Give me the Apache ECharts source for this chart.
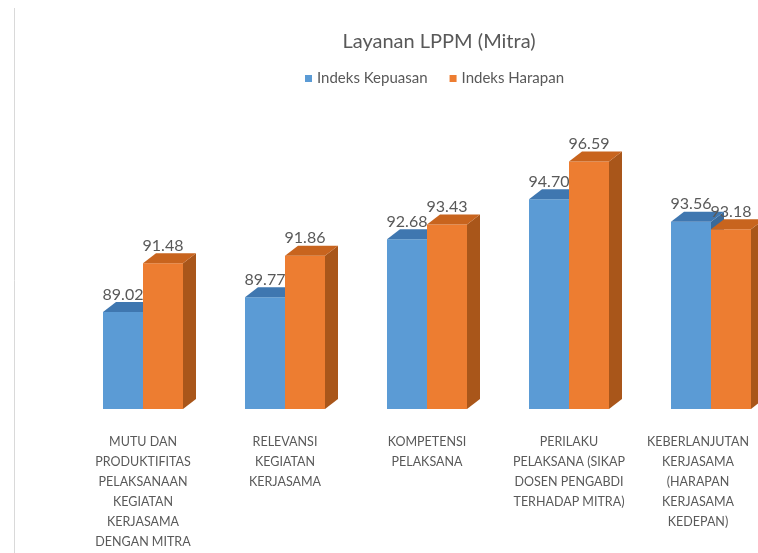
<!DOCTYPE html>
<html>
<head>
<meta charset="utf-8">
<script src="https://cdn.jsdelivr.net/npm/echarts@6/dist/echarts.min.js"></script>
<style>html,body{margin:0;padding:0;background:#fff}#c{width:758px;height:553px}</style>
</head>
<body>
<div id="c"></div>
<script>
var categories = [
  'MUTU DAN\nPRODUKTIFITAS\nPELAKSANAAN\nKEGIATAN\nKERJASAMA\nDENGAN MITRA',
  'RELEVANSI\nKEGIATAN\nKERJASAMA',
  'KOMPETENSI\nPELAKSANA',
  'PERILAKU\nPELAKSANA (SIKAP\nDOSEN PENGABDI\nTERHADAP MITRA)',
  'KEBERLANJUTAN\nKERJASAMA\n(HARAPAN\nKERJASAMA\nKEDEPAN)'
];
var kepuasan = [89.02, 89.77, 92.68, 94.70, 93.56];
var harapan = [91.48, 91.86, 93.43, 96.59, 93.18];

var Y_MIN = 84.15, Y_MAX = 97.22;
var FONT = 'Lato, "Open Sans", sans-serif';

function bar3D(front, top, side, pos) {
  return function (params, api) {
    var i = api.value(0), v = api.value(1);
    var t = api.coord([i, v]);
    var b = api.coord([i, Y_MIN]);
    var band = api.size([1, 0])[0];
    var w = band * 0.2817;
    var x0 = pos < 0 ? t[0] - w : t[0];
    var x1 = x0 + w;
    var dx = 13, dy = 10;
    return {
      type: 'group',
      children: [
        {type: 'polygon', shape: {points: [[x1, t[1]], [x1 + dx, t[1] - dy], [x1 + dx, b[1] - dy], [x1, b[1]]]}, style: {fill: side}},
        {type: 'rect', shape: {x: x0, y: t[1], width: w, height: b[1] - t[1]}, style: {fill: front}},
        {type: 'polygon', shape: {points: [[x0, t[1]], [x0 + dx, t[1] - dy], [x1 + dx, t[1] - dy], [x1, t[1]]]}, style: {fill: top}},
        {type: 'text', style: {text: v.toFixed(2), x: (x0 + x1) / 2, y: t[1] - 17.5, align: 'center', verticalAlign: 'middle', fill: '#595959', font: '16px ' + FONT}}
      ]
    };
  };
}

var xData = categories.map(function (c, i) {
  return i === categories.length - 1 ? {value: c, textStyle: {padding: [0, 26, 0, 0]}} : c;
});

var chart = echarts.init(document.getElementById('c'));
chart.setOption({
  backgroundColor: '#fff',
  animation: false,
  title: {text: 'Layanan LPPM (Mitra)', left: 434, top: 27, textAlign: 'center',
    textStyle: {fontFamily: FONT, fontSize: 20, fontWeight: 'normal', color: '#595959'}},
  legend: {left: 300, top: 66, itemWidth: 7, itemHeight: 7, itemGap: 22, icon: 'rect',
    textStyle: {fontFamily: FONT, fontSize: 15, color: '#595959'},
    data: [{name: 'Indeks Kepuasan', itemStyle: {color: '#5B9BD5'}}, {name: 'Indeks Harapan', itemStyle: {color: '#ED7D31'}}]},
  grid: {left: 72, width: 710, top: 149, bottom: 144, containLabel: false, outerBoundsMode: 'none'},
  xAxis: {type: 'category', data: xData,
    axisLine: {show: false}, axisTick: {show: false},
    axisLabel: {interval: 0, margin: 23, fontFamily: FONT, fontSize: 12.5, lineHeight: 20, color: '#595959', verticalAlign: 'top'}},
  yAxis: {type: 'value', min: Y_MIN, max: Y_MAX, show: false, splitLine: {show: false}},
  graphic: [{type: 'line', shape: {x1: 14.5, y1: 8, x2: 14.5, y2: 553}, style: {stroke: '#d9d9d9', lineWidth: 1}}],
  series: [
    {name: 'Indeks Kepuasan', type: 'custom', renderItem: bar3D('#5B9BD5', '#3F77B0', '#3A6A9A', -1),
      data: kepuasan.map(function (v, i) { return [i, v]; }), encode: {x: 0, y: 1}, itemStyle: {color: '#5B9BD5'}},
    {name: 'Indeks Harapan', type: 'custom', renderItem: bar3D('#ED7D31', '#C8641E', '#A9561A', 1),
      data: harapan.map(function (v, i) { return [i, v]; }), encode: {x: 0, y: 1}, itemStyle: {color: '#ED7D31'}}
  ]
});
</script>
</body>
</html>
